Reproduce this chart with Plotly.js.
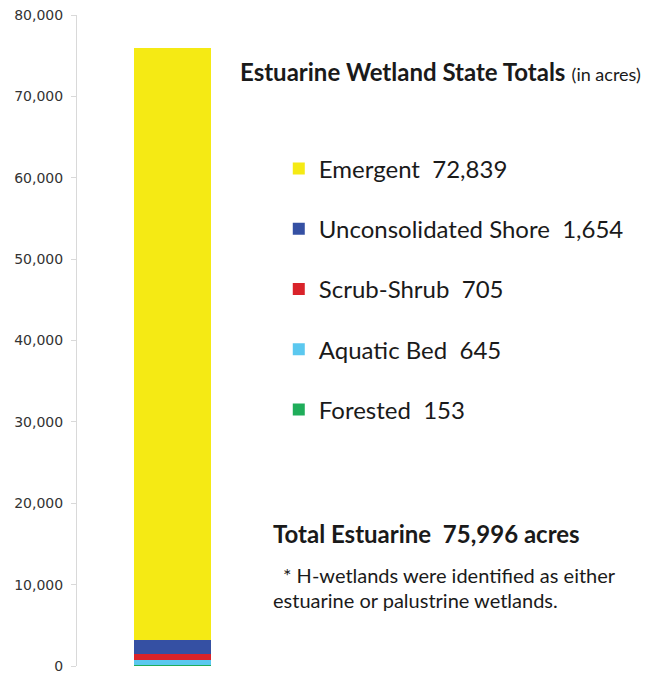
<!DOCTYPE html>
<html>
<head>
<meta charset="utf-8">
<script src="https://cdn.plot.ly/plotly-3.0.1.min.js"></script>
<style>html,body{margin:0;padding:0;background:#fff;}#chart{width:647px;height:674px;}</style>
</head>
<body>
<div id="chart"></div>
<script>
// Data (bottom of stack first)
const categories = ["Forested", "Aquatic Bed", "Scrub-Shrub", "Unconsolidated Shore", "Emergent"];
const values = [153, 645, 705, 1654, 72839];
const colors = ["#1fad5a", "#5bc8ef", "#d9232a", "#3550a3", "#f5ea14"];
const yTicks = [0, 10000, 20000, 30000, 40000, 50000, 60000, 70000, 80000];

const fmt = v => v.toLocaleString("en-US");
const total = values.reduce((a, b) => a + b, 0);

const traces = categories.map((c, i) => ({
  type: "bar",
  x: [0],
  y: [values[i]],
  width: 1,
  name: c + "\u00a0\u00a0" + fmt(values[i]),
  legendgroup: "g" + i,
  legendrank: categories.length - i,
  marker: {color: colors[i], line: {width: 0}},
  hoverinfo: "name"
}));

const FONT = "Lato, 'Noto Sans', sans-serif";

const layout = {
  width: 647, height: 674,
  margin: {l: 77, r: 0, t: 15, b: 8},
  paper_bgcolor: "#ffffff", plot_bgcolor: "#ffffff",
  barmode: "stack",
  showlegend: true,
  legend: {
    x: 0.354, xanchor: "left", y: 0.798, yanchor: "top",
    traceorder: "grouped", tracegroupgap: 26,
    font: {family: FONT, size: 24, color: "#1a1a1a"},
    bgcolor: "rgba(0,0,0,0)"
  },
  xaxis: {range: [-1.24, 6.16], visible: false, fixedrange: true},
  yaxis: {
    range: [0, 80000], tickvals: yTicks, tickformat: ",",
    showgrid: false, zeroline: false, showline: true,
    linecolor: "#d9d9d9", linewidth: 1,
    ticks: "outside", ticklen: 5, tickcolor: "#d9d9d9",
    ticklabelstandoff: 5,
    tickfont: {family: "DejaVu Sans, sans-serif", size: 14, color: "#333333"}
  },
  annotations: [
    {xref: "paper", yref: "paper", x: (238 - 77) / 570, y: 1 - (71 - 15) / 651, xanchor: "left", yanchor: "middle", showarrow: false,
     text: "<b>Estuarine Wetland State Totals</b> <span style='font-size:18px'>(in acres)</span>",
     font: {family: FONT, size: 24, color: "#1a1a1a"}},
    {xref: "paper", yref: "paper", x: (271 - 77) / 570, y: 1 - (533 - 15) / 651, xanchor: "left", yanchor: "middle", showarrow: false,
     text: "<b>Total Estuarine\u00a0\u00a0" + fmt(total) + " acres</b>",
     font: {family: FONT, size: 24, color: "#1a1a1a"}},
    {xref: "paper", yref: "paper", x: (281 - 77) / 570, y: 1 - (575 - 15) / 651, xanchor: "left", yanchor: "middle", showarrow: false,
     text: "* H-wetlands were identified as either",
     font: {family: FONT, size: 20, color: "#1a1a1a"}},
    {xref: "paper", yref: "paper", x: (271 - 77) / 570, y: 1 - (600 - 15) / 651, xanchor: "left", yanchor: "middle", showarrow: false,
     text: "estuarine or palustrine wetlands.",
     font: {family: FONT, size: 20, color: "#1a1a1a"}}
  ]
};

Plotly.newPlot("chart", traces, layout, {displayModeBar: false, staticPlot: true});
</script>
</body>
</html>
